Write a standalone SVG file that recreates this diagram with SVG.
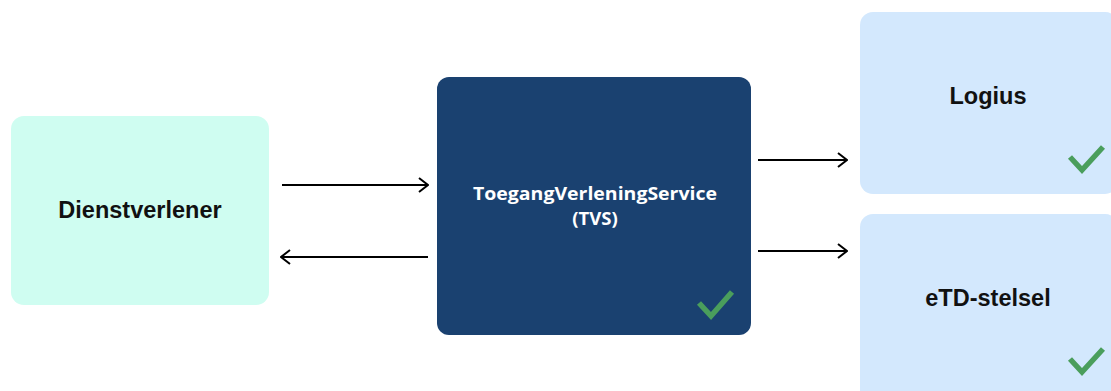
<svg xmlns="http://www.w3.org/2000/svg" width="1111" height="391" viewBox="0 0 1111 391">
<style>
.lbl{font-family:"Liberation Sans",Arial,sans-serif;font-weight:bold;font-size:23.5px;fill:#111;text-anchor:middle}
.tvs{font-family:"Open Sans","Noto Sans",sans-serif;font-weight:bold;font-size:18.5px;fill:#fff;text-anchor:middle}
.conn{stroke:#000;stroke-width:2;fill:none}
.chk{stroke:#4a9e5c;stroke-width:5.5;fill:none;stroke-linecap:butt;stroke-linejoin:miter}
</style>
<defs>
<marker id="arr" viewBox="0 0 12 16" refX="11" refY="8" markerWidth="12" markerHeight="16" markerUnits="userSpaceOnUse" orient="auto">
<path d="M2,1 L11,8 L2,15" fill="none" stroke="#000" stroke-width="2"/>
</marker>
</defs>
<rect width="1111" height="391" fill="#fff"/>
<g id="dienstverlener">
<rect x="11" y="116" width="258" height="189" rx="13" fill="#cffdf1"/>
<text class="lbl" x="140" y="218">Dienstverlener</text>
</g>
<g id="tvs">
<rect x="437" y="77" width="314" height="258" rx="12" fill="#1a4170"/>
<text class="tvs" x="595" y="200" textLength="244" lengthAdjust="spacingAndGlyphs">ToegangVerleningService</text>
<text class="tvs" x="595" y="225">(TVS)</text>
<path class="chk" d="M699,303 L711,316 L732,292"/>
</g>
<g id="logius">
<rect x="860" y="12" width="258" height="182" rx="13" fill="#d3e8fd"/>
<text class="lbl" x="988" y="104">Logius</text>
<path class="chk" d="M1070,157 L1082,170 L1103,147"/>
</g>
<g id="etd">
<rect x="860" y="214" width="258" height="190" rx="13" fill="#d3e8fd"/>
<text class="lbl" x="988" y="306">eTD-stelsel</text>
<path class="chk" d="M1070,359 L1082,372 L1103,349"/>
</g>
<g id="connectors">
<line class="conn" x1="282" y1="185" x2="428" y2="185" marker-end="url(#arr)"/>
<line class="conn" x1="428" y1="257" x2="281" y2="257" marker-end="url(#arr)"/>
<line class="conn" x1="758" y1="160" x2="847" y2="160" marker-end="url(#arr)"/>
<line class="conn" x1="758" y1="251" x2="847" y2="251" marker-end="url(#arr)"/>
</g>
</svg>
